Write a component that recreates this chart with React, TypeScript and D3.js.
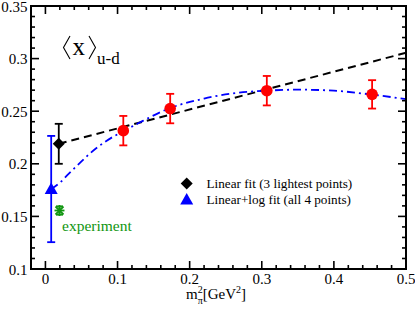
import React from 'react'
import * as d3 from 'd3'

// lattice points (red)
const latticeX = [0.108, 0.173, 0.307, 0.453]
const latticeY = [0.2315, 0.2525, 0.2695, 0.266]
const latticeErr = [0.014, 0.014, 0.014, 0.0135]

// extrapolated values at the physical point
const linearPoint = { x: 0.0185, y: 0.219, err: 0.019 }
const logPoint = { x: 0.008, y: 0.176, err: 0.0505 }
const experimentPoint = { x: 0.0195, y: 0.1556, err: 0.004 }

// fit curves
const linearFitX = [0.0185, 0.5]
const linearFitY = [0.219, 0.3055]
const logFitX = [0.008, 0.02, 0.03, 0.045, 0.062, 0.085, 0.108, 0.13, 0.173, 0.22, 0.26, 0.307, 0.35, 0.4, 0.45, 0.5]
const logFitY = [0.176, 0.182, 0.189, 0.199, 0.21, 0.222, 0.231, 0.239, 0.253, 0.262, 0.267, 0.2695, 0.2705, 0.2695, 0.266, 0.2615]

const xMajor = [0, 0.1, 0.2, 0.3, 0.4, 0.5]
const yMajor = [0.1, 0.15, 0.2, 0.25, 0.3, 0.35]

const legendLabels = ['Linear fit (3 lightest points)', 'Linear+log fit (all 4 points)']

const W = 415
const H = 311
const m = { left: 31, right: 406, top: 6, bottom: 269 }
const FONT = "'Liberation Serif', 'Times New Roman', Times, serif"
const GREEN = '#119611'

export default function App() {
  const x = d3.scaleLinear().domain([-0.02, 0.5]).range([m.left, m.right])
  const y = d3.scaleLinear().domain([0.1, 0.35]).range([m.bottom, m.top])

  const xMinor = d3.range(-0.02, 0.5001, 0.02).filter(v => !xMajor.some(t => Math.abs(t - v) < 1e-6))
  const yMinor = d3.range(0.1, 0.3501, 0.01).filter(v => !yMajor.some(t => Math.abs(t - v) < 1e-6))

  const line = d3.line<number>().x(i => x(linearFitX[i])).y(i => y(linearFitY[i]))
  const curve = d3.line<number>()
    .x(i => x(logFitX[i]))
    .y(i => y(logFitY[i]))
    .curve(d3.curveMonotoneX)

  const fmt = (v: number) => String(+v.toFixed(2))

  const errBar = (px: number, py: number, e: number, color: string, cap = 4) => (
    <g stroke={color} strokeWidth={1.8}>
      <line x1={x(px)} x2={x(px)} y1={y(py - e)} y2={y(py + e)} />
      <line x1={x(px) - cap} x2={x(px) + cap} y1={y(py - e)} y2={y(py - e)} />
      <line x1={x(px) - cap} x2={x(px) + cap} y1={y(py + e)} y2={y(py + e)} />
    </g>
  )

  const diamond = (cx: number, cy: number) => (
    <path d={`M${cx},${cy - 6}L${cx + 6},${cy}L${cx},${cy + 6}L${cx - 6},${cy}Z`} fill="black" />
  )
  const triangle = (cx: number, cy: number) => (
    <path d={`M${cx},${cy - 6.5}L${cx + 6.5},${cy + 5}L${cx - 6.5},${cy + 5}Z`} fill="blue" />
  )

  const ex = x(experimentPoint.x)
  const ey = y(experimentPoint.y)

  return (
    <div style={{ position: 'absolute', left: 0, top: 0 }}>
      <svg width={W} height={H} style={{ display: 'block', background: 'white', fontFamily: FONT }}>
        {/* fits */}
        <path d={line(d3.range(linearFitX.length)) || ''} fill="none" stroke="black" strokeWidth={2} strokeDasharray="8,5" />
        <path d={curve(d3.range(logFitX.length)) || ''} fill="none" stroke="blue" strokeWidth={1.8} strokeDasharray="8,4,2,4" />

        {/* lattice points */}
        {latticeX.map((lx, i) => (
          <g key={i}>
            {errBar(lx, latticeY[i], latticeErr[i], 'red')}
            <circle cx={x(lx)} cy={y(latticeY[i])} r={5.8} fill="red" />
          </g>
        ))}

        {/* extrapolations */}
        {errBar(logPoint.x, logPoint.y, logPoint.err, 'blue')}
        {triangle(x(logPoint.x), y(logPoint.y))}
        {errBar(linearPoint.x, linearPoint.y, linearPoint.err, 'black')}
        {diamond(x(linearPoint.x), y(linearPoint.y))}

        {/* experiment */}
        {errBar(experimentPoint.x, experimentPoint.y, experimentPoint.err, GREEN, 3.5)}
        <g stroke={GREEN} strokeWidth={1.8}>
          <line x1={ex - 5} x2={ex + 5} y1={ey} y2={ey} />
          <line x1={ex} x2={ex} y1={ey - 5.5} y2={ey + 5.5} />
          <line x1={ex - 4} x2={ex + 4} y1={ey - 4} y2={ey + 4} />
          <line x1={ex - 4} x2={ex + 4} y1={ey + 4} y2={ey - 4} />
        </g>
        <text x={62} y={231} fontSize={15.5} fill={GREEN}>experiment</text>

        {/* legend */}
        {diamond(186.7, 183.5)}
        {triangle(186.7, 199.5)}
        <text x={206.5} y={187.5} fontSize={13.2}>{legendLabels[0]}</text>
        <text x={206.5} y={203.5} fontSize={13.2}>{legendLabels[1]}</text>

        {/* title <x>_{u-d} */}
        <g fill="none" stroke="black" strokeWidth={1.1}>
          <path d="M70,36L63.5,47.5L70,59" />
          <path d="M89,36L95.5,47.5L89,59" />
        </g>
        <text x={72.5} y={55} fontSize={25}>x</text>
        <text x={97} y={64} fontSize={17}>u-d</text>

        {/* frame and ticks */}
        <rect x={m.left} y={m.top} width={m.right - m.left} height={m.bottom - m.top} fill="none" stroke="black" strokeWidth={2} />
        <g stroke="black" strokeWidth={1.6}>
          {xMajor.map(t => (
            <g key={'xM' + t}>
              <line x1={x(t)} x2={x(t)} y1={m.bottom} y2={m.bottom - 8} />
              <line x1={x(t)} x2={x(t)} y1={m.top} y2={m.top + 8} />
            </g>
          ))}
          {xMinor.map(t => (
            <g key={'xm' + t}>
              <line x1={x(t)} x2={x(t)} y1={m.bottom} y2={m.bottom - 4} />
              <line x1={x(t)} x2={x(t)} y1={m.top} y2={m.top + 4} />
            </g>
          ))}
          {yMajor.map(t => (
            <g key={'yM' + t}>
              <line x1={m.left} x2={m.left + 8} y1={y(t)} y2={y(t)} />
              <line x1={m.right} x2={m.right - 8} y1={y(t)} y2={y(t)} />
            </g>
          ))}
          {yMinor.map(t => (
            <g key={'ym' + t}>
              <line x1={m.left} x2={m.left + 4} y1={y(t)} y2={y(t)} />
              <line x1={m.right} x2={m.right - 4} y1={y(t)} y2={y(t)} />
            </g>
          ))}
        </g>

        {/* tick labels */}
        {yMajor.map(t => (
          <text key={'yl' + t} x={27.5} y={y(t) + 5.5} fontSize={15} textAnchor="end">{fmt(t)}</text>
        ))}
        {xMajor.map(t => (
          <text key={'xl' + t} x={x(t)} y={m.bottom + 15} fontSize={15} textAnchor="middle">{fmt(t)}</text>
        ))}

        {/* axis label: m_pi^2 [GeV^2] */}
        <text x={186} y={299} fontSize={15}>
          m
          <tspan fontSize={10} dy={-6.5}>2</tspan>
          <tspan fontSize={10} dx={-5} dy={11.5}>π</tspan>
          <tspan dy={-5}>[GeV</tspan>
          <tspan fontSize={10} dy={-6.5}>2</tspan>
          <tspan dy={6.5}>]</tspan>
        </text>
      </svg>
    </div>
  )
}
